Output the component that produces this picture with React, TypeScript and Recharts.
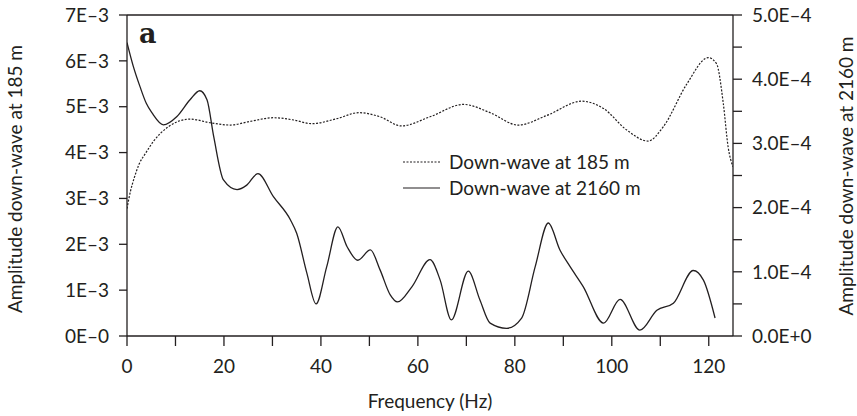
import React from "react";
import { LineChart, Line, XAxis, YAxis, ReferenceLine, Legend } from "recharts";

// Frequency (Hz) and amplitude of the down-wave recorded at 185 m (left axis)
const freq185 = [0, 0.7, 1.5, 2.5, 3.8, 5.5, 6.9, 8.5, 10.3, 13, 17.2, 21.3, 25.4, 30.2, 34.4, 38.1, 43.3, 47.8, 52.2, 56.6, 62.5, 69.4, 74.9, 80.7, 86.6, 93.8, 98.3, 103.1, 107.5, 110.6, 115.5, 119.9, 121.6, 123, 124, 125];
const amp185 = [2.78e-3, 3.15e-3, 3.45e-3, 3.75e-3, 3.98e-3, 4.25e-3, 4.42e-3, 4.56e-3, 4.67e-3, 4.73e-3, 4.65e-3, 4.6e-3, 4.68e-3, 4.76e-3, 4.71e-3, 4.63e-3, 4.74e-3, 4.87e-3, 4.78e-3, 4.58e-3, 4.78e-3, 5.05e-3, 4.87e-3, 4.6e-3, 4.81e-3, 5.12e-3, 4.96e-3, 4.49e-3, 4.25e-3, 4.56e-3, 5.5e-3, 6.07e-3, 5.94e-3, 5.07e-3, 4.12e-3, 3.69e-3];

// Frequency (Hz) and amplitude of the down-wave recorded at 2160 m (right axis)
const freq2160 = [0, 1.3, 2.7, 4, 5.2, 7.5, 10.3, 13, 15, 16.5, 17.9, 19.9, 22.7, 24.7, 27, 30.2, 33.7, 35, 37.1, 39, 41.2, 43.5, 45.4, 47.6, 50.2, 52.2, 54.3, 55.8, 58.8, 62.5, 64.6, 66.9, 70.4, 72.8, 74.9, 78.3, 81.4, 84.2, 86.9, 89.3, 91.4, 94.1, 98.3, 101.7, 105.8, 109.3, 112.7, 116.8, 118.9, 121.3];
const amp2160 = [4.57e-4, 4.2e-4, 3.88e-4, 3.62e-4, 3.47e-4, 3.29e-4, 3.42e-4, 3.68e-4, 3.82e-4, 3.68e-4, 3.1e-4, 2.43e-4, 2.28e-4, 2.35e-4, 2.53e-4, 2.17e-4, 1.81e-4, 1.6e-4, 0.98e-4, 0.5e-4, 1.08e-4, 1.7e-4, 1.39e-4, 1.18e-4, 1.34e-4, 1.03e-4, 0.64e-4, 0.53e-4, 0.77e-4, 1.19e-4, 0.87e-4, 0.25e-4, 1.01e-4, 0.56e-4, 0.2e-4, 0.12e-4, 0.28e-4, 1.08e-4, 1.76e-4, 1.34e-4, 1.08e-4, 0.77e-4, 0.2e-4, 0.57e-4, 0.09e-4, 0.4e-4, 0.51e-4, 1.02e-4, 0.87e-4, 0.28e-4];

const xTicks = [0, 10, 20, 30, 40, 50, 60, 70, 80, 90, 100, 110, 120];
const xTickLabels = ["0", "", "20", "", "40", "", "60", "", "80", "", "100", "", "120"];
const leftTicks = [0, 0.001, 0.002, 0.003, 0.004, 0.005, 0.006, 0.007];
const leftTickLabels = ["0E–0", "1E–3", "2E–3", "3E–3", "4E–3", "5E–3", "6E–3", "7E–3"];
const rightTicks = [0, 0.00005, 0.0001, 0.00015, 0.0002, 0.00025, 0.0003, 0.00035, 0.0004, 0.00045, 0.0005];
const rightTickLabels = ["0.0E+0", "", "1.0E–4", "", "2.0E–4", "", "3.0E–4", "", "4.0E–4", "", "5.0E–4"];

const seriesNames = ["Down-wave at 185 m", "Down-wave at 2160 m"];
const xTitle = "Frequency (Hz)";
const leftTitle = "Amplitude down-wave at 185 m";
const rightTitle = "Amplitude down-wave at 2160 m";
const panelLabel = "a";

const data185 = freq185.map((f, i) => ({ f, v: amp185[i] }));
const data2160 = freq2160.map((f, i) => ({ f, v: amp2160[i] }));

const INK = "#231f20";
const FONT = "Lato, 'Open Sans', sans-serif";
const tickStyle = { fill: INK, fontSize: 19, fontFamily: FONT };

const renderLegend = () => (
  <div style={{ fontFamily: FONT, fontSize: 19, color: INK }}>
    {seriesNames.map((name, i) => (
      <div key={name} style={{ display: "flex", alignItems: "center", height: 26 }}>
        <svg width={48} height={26} style={{ display: "block" }}>
          <line
            x1={2}
            x2={39}
            y1={13}
            y2={13}
            stroke={INK}
            strokeWidth={1.2}
            strokeDasharray={i === 0 ? "2 1.5" : undefined}
          />
        </svg>
        <span style={{ whiteSpace: "nowrap", lineHeight: "26px" }}>{name}</span>
      </div>
    ))}
  </div>
);

export default function App() {
  return (
    <div style={{ position: "absolute", left: 0, top: 0, width: 857, height: 416, background: "#fff", fontFamily: FONT }}>
      <LineChart width={857} height={416} margin={{ top: 15, right: 64, bottom: 50, left: 67 }}>
        <XAxis
          dataKey="f"
          type="number"
          domain={[0, 125]}
          ticks={xTicks}
          tickFormatter={(v: number, i: number) => xTickLabels[i]}
          allowDataOverflow
          height={30}
          tickSize={10}
          tickMargin={14}
          tick={tickStyle}
          stroke={INK}
          strokeWidth={1.3}
          interval={0}
        />
        <YAxis
          yAxisId="left"
          domain={[0, 0.007]}
          ticks={leftTicks}
          tickFormatter={(v: number, i: number) => leftTickLabels[i]}
          width={60}
          tickSize={8}
          tickMargin={10}
          tick={tickStyle}
          stroke={INK}
          strokeWidth={1.3}
          interval={0}
          allowDataOverflow
        />
        <YAxis
          yAxisId="right"
          orientation="right"
          domain={[0, 0.0005]}
          ticks={rightTicks}
          tickFormatter={(v: number, i: number) => rightTickLabels[i]}
          width={60}
          tickSize={9}
          tickMargin={10}
          tick={tickStyle}
          stroke={INK}
          strokeWidth={1.3}
          interval={0}
          allowDataOverflow
        />
        <ReferenceLine yAxisId="left" y={0.007} stroke={INK} strokeWidth={1.3} ifOverflow="visible" />
        <Legend
          layout="vertical"
          align="center"
          verticalAlign="middle"
          content={renderLegend}
          wrapperStyle={{ left: 401, top: 149, width: 260 }}
        />
        <Line
          yAxisId="left"
          data={data185}
          dataKey="v"
          name={seriesNames[0]}
          type="monotone"
          stroke={INK}
          strokeWidth={1.2}
          strokeDasharray="2 1.5"
          dot={false}
          isAnimationActive={false}
        />
        <Line
          yAxisId="right"
          data={data2160}
          dataKey="v"
          name={seriesNames[1]}
          type="monotone"
          stroke={INK}
          strokeWidth={1.3}
          dot={false}
          isAnimationActive={false}
        />
      </LineChart>
      <svg
        width={857}
        height={416}
        style={{ position: "absolute", left: 0, top: 0, pointerEvents: "none" }}
      >
        <text x={139} y={43} fontFamily="'DejaVu Serif', serif" fontWeight="bold" fontSize={27} fill={INK}>
          {panelLabel}
        </text>
        <text x={430} y={408} textAnchor="middle" fontFamily={FONT} fontSize={19} fill={INK}>
          {xTitle}
        </text>
        <text
          x={22}
          y={179}
          textAnchor="middle"
          transform="rotate(-90 22 179)"
          fontFamily={FONT}
          fontSize={19}
          fill={INK}
        >
          {leftTitle}
        </text>
        <text
          x={853}
          y={176}
          textAnchor="middle"
          transform="rotate(-90 853 176)"
          fontFamily={FONT}
          fontSize={19}
          fill={INK}
        >
          {rightTitle}
        </text>
      </svg>
    </div>
  );
}
